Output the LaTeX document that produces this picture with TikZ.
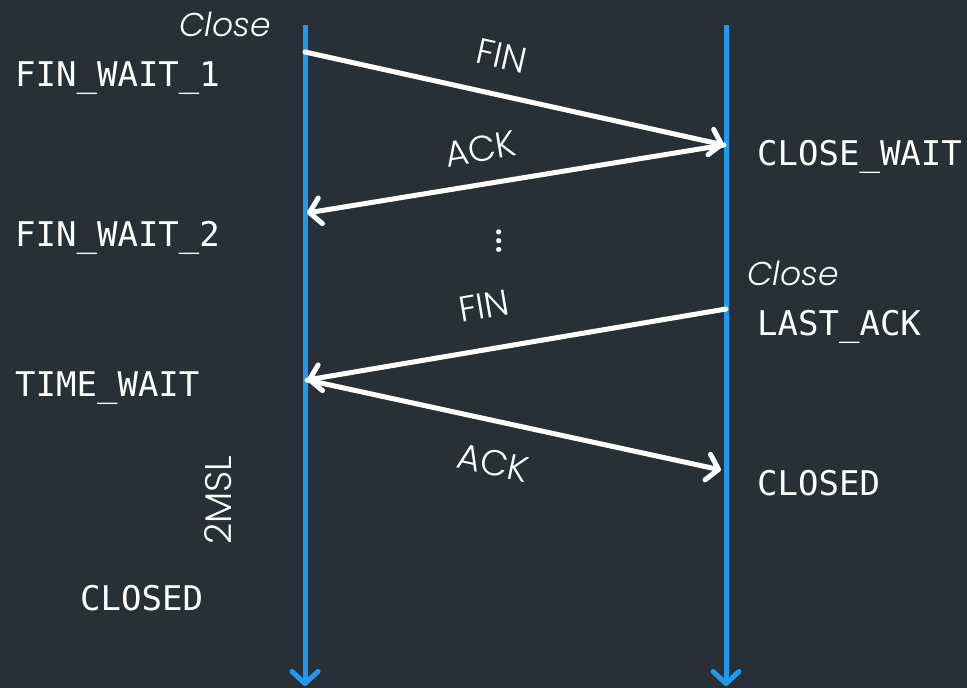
\documentclass[tikz,border=0pt]{standalone}
\usepackage{fontspec}
\setmainfont{Poppins}[UprightFont=* Light, ItalicFont=* Light Italic]
\newfontfamily\monofont{DejaVu Sans Mono}
\usetikzlibrary{arrows.meta}
\definecolor{bgcol}{HTML}{282F37}
\definecolor{lifeblue}{HTML}{1E9BF0}
\tikzset{
  lifeline/.style={draw=lifeblue, line width=5pt,
    -{Straight Barb[length=12pt, width=26pt, line width=5pt, round]}},
  msg/.style={draw=white, line width=5pt, line cap=round,
    -{Straight Barb[length=11pt, width=26pt, line width=5pt, round]}},
  state/.style={text=white, font=\monofont\fontsize{34}{38}\selectfont, inner sep=0pt},
  event/.style={text=white, font=\itshape\fontsize{33}{38}\selectfont, inner sep=0pt},
  msglabel/.style={text=white, font=\fontsize{36}{40}\selectfont, sloped, inner sep=0pt},
}
\begin{document}
\begin{tikzpicture}[x=1pt, y=1pt]
  \fill[bgcol] (0,0) rectangle (967,-688);
  \useasboundingbox (0,0) rectangle (967,-688);

  % lifelines
  \coordinate (ltop) at (305,-25);
  \coordinate (lbot) at (305,-686);
  \coordinate (rtop) at (726,-25);
  \coordinate (rbot) at (726,-686);
  \draw[lifeline] (ltop) -- (lbot);
  \draw[lifeline] (rtop) -- (rbot);

  % message end points
  \coordinate (a1) at (305,-52);
  \coordinate (b1) at (724,-145);
  \coordinate (a2) at (307,-213);
  \coordinate (b2) at (726,-309);
  \coordinate (a3) at (307,-380);
  \coordinate (b3) at (721,-470);

  \draw[msg] (a1) -- node[msglabel, pos=0.45, above=24pt] (lfin1) {FIN} (b1);
  \draw[msg] (b1) -- node[msglabel, pos=0.57, above=20pt] (lack1) {ACK} (a2);
  \draw[msg] (b2) -- node[msglabel, pos=0.56, above=28pt] (lfin2) {FIN} (a3);
  \draw[msg] (a3) -- node[msglabel, pos=0.47, below=26pt] (lack2) {ACK} (b3);

  % waiting dots
  \node[text=white, font=\fontsize{50}{50}\selectfont, inner sep=0pt] (dots) at (499,-241) {\rotatebox{90}{\textellipsis}};

  % events
  \node[event, anchor=base east] (closeL) at (271,-36) {Close};
  \node[event, anchor=base west] (closeR) at (747,-285) {Close};

  % states, client side
  \node[state, anchor=base west] (fw1) at (15,-86) {FIN\_WAIT\_1};
  \node[state, anchor=base west] (fw2) at (15,-246) {FIN\_WAIT\_2};
  \node[state, anchor=base west] (tw) at (15,-396) {TIME\_WAIT};
  \node[state, anchor=base west] (cl1) at (80,-610) {CLOSED};
  \node[text=white, font=\fontsize{37}{40}\selectfont, inner sep=0pt, rotate=90] (msl) at (218,-500) {2MSL};

  % states, server side
  \node[state, anchor=base west] (cw) at (757,-165) {CLOSE\_WAIT};
  \node[state, anchor=base west] (la) at (757,-335) {LAST\_ACK};
  \node[state, anchor=base west] (cl2) at (757,-495) {CLOSED};
\end{tikzpicture}
\end{document}
